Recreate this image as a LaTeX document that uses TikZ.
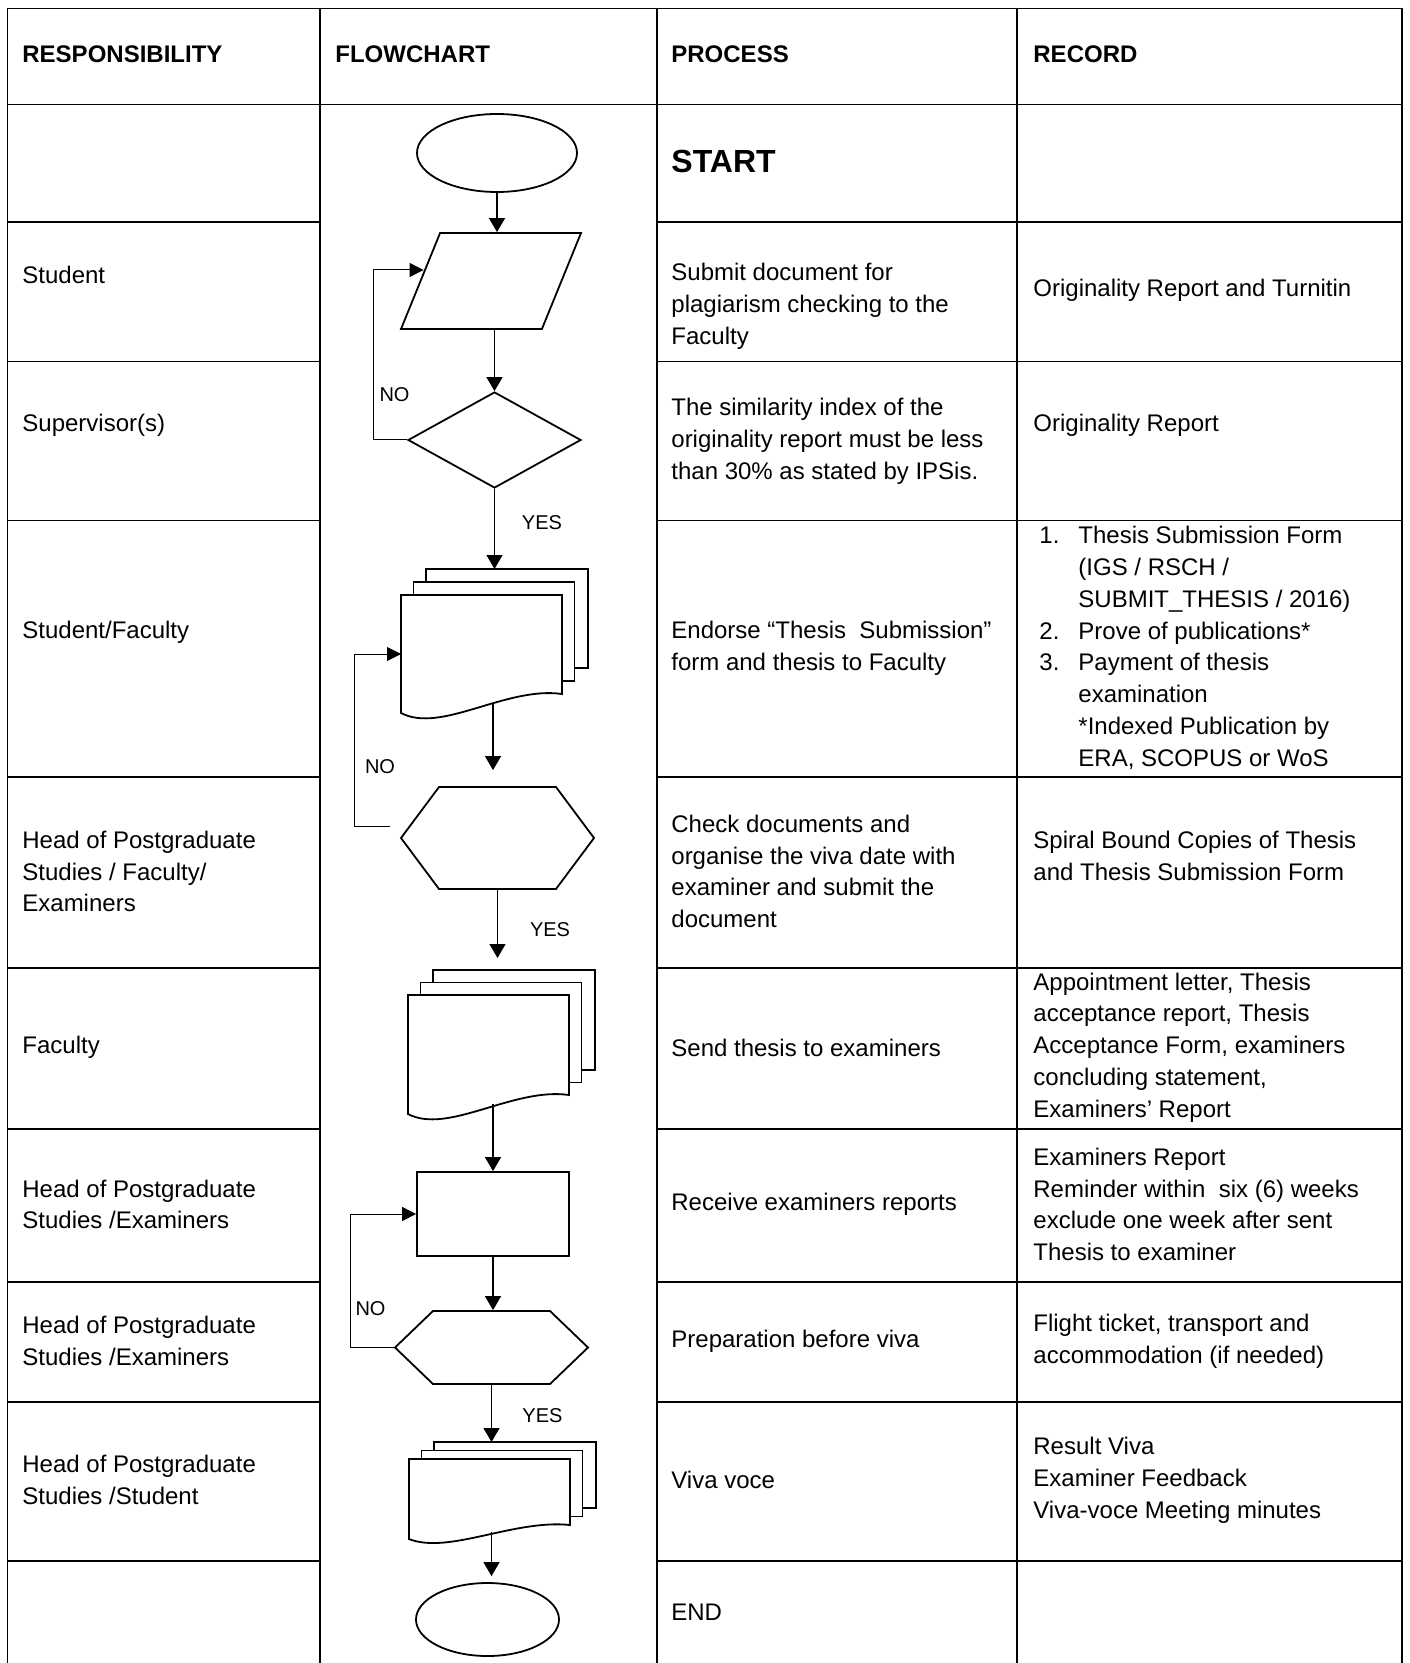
\documentclass[tikz,border=0pt]{standalone}
\usepackage{fontspec}
\setmainfont{Liberation Sans}
\usetikzlibrary{shapes.geometric, shapes.symbols, arrows.meta}
\newcommand{\recnum}[1]{\makebox[19.5pt][l]{#1}}

\begin{document}
\begin{tikzpicture}[x=0.5pt, y=-0.5pt,
  every node/.style={font=\fontsize{12}{15.9}\selectfont, inner sep=0pt},
  tabline/.style={line width=0.85pt},
  cell/.style={anchor=west, align=left},
  headtxt/.style={anchor=west, font=\fontsize{12}{15.9}\selectfont\bfseries},
  shapeline/.style={draw, line width=0.9pt, fill=white, inner sep=2pt},
  hexa/.style={shapeline, signal, signal to=east and west, minimum width=96.5pt},
  arr/.style={line width=0.7pt, -{Triangle[length=7pt, width=8pt]}},
  loopline/.style={line width=0.5pt, -{Triangle[length=7pt, width=7pt]}},
  lbl/.style={font=\fontsize{10}{12}\selectfont},
  pics/docs/.style args={#1/#2/#3}{code={
    \draw[shapeline] (25,-2*#2) rectangle ++(162,#1);
    \draw[shapeline] (12.5,-#2) rectangle ++(161,#1);
    \draw[shapeline] (0,0) -- (161,0) -- (161,#1)
      .. controls (105,#1-8*#3) and (40,#1+40*#3) .. (0,#1+19*#3) -- cycle;
    \coordinate (-top) at (91,-2*#2);
    \coordinate (-out) at (92,#1+9*#3);
    \coordinate (-in) at (0,{(#1+19*#3)/2});
  }}]
  \useasboundingbox (0,0) rectangle (1409,1663);
  % table
  \draw[tabline] (7.5,1663) -- (7.5,8.5) -- (1402,8.5) -- (1402,1663);
  \foreach \cx in {320,657,1017} \draw[tabline] (\cx,8.5) -- (\cx,1663);
  \draw[tabline] (7.5,104.5) -- (1402,104.5);
  \foreach \ry in {222,361.5,520.5,777,968,1129,1282,1402,1561} {
    \draw[tabline] (7.5,\ry) -- (320,\ry);
    \draw[tabline] (657,\ry) -- (1402,\ry);
  }
  \node[headtxt] (hresp) at (22,54) {RESPONSIBILITY};
  \node[headtxt] (hflow) at (335,54) {FLOWCHART};
  \node[headtxt] (hproc) at (671,54) {PROCESS};
  \node[headtxt] (hrec) at (1033,54) {RECORD};

  % flowchart
  \node[shapeline, ellipse, minimum width=80pt, minimum height=39pt] (start) at (497,153) {};
  \node[shapeline, trapezium, trapezium left angle=69, trapezium right angle=111,
    trapezium stretches=true, minimum width=90pt, minimum height=48pt] (para) at (491,281) {};
  \node[shapeline, diamond, aspect=1.8, minimum width=86.5pt, minimum height=48pt] (dia) at (494.5,440) {};
  \pic (d1) at (401,595) {docs=99/13/1};
  \node[hexa, signal pointer angle=106.6, minimum height=51pt] (hex1) at (497.5,838) {};
  \pic (d2) at (408,995) {docs=100/12.5/1};
  \node[shapeline, rectangle, minimum width=76pt, minimum height=42pt] (rect) at (493,1214) {};
  \node[hexa, signal pointer angle=87.7, minimum height=36.5pt] (hex2) at (491.5,1347.5) {};
  \pic (d3) at (409,1459) {docs=66/8.5/0.74};
  \node[shapeline, ellipse, minimum width=71.5pt, minimum height=36.5pt] (stop) at (487.5,1619.5) {};

  \draw[arr] (start) -- (start |- para.north);
  \draw[arr] (dia |- para.south) -- (dia.north);
  \draw[arr] (dia) -- (dia |- d1-top);
  \draw[arr, shorten >=8pt] (d1-out) -- (d1-out |- hex1.north);
  \draw[arr, shorten >=6pt] (hex1) -- (hex1 |- d2-top);
  \draw[arr] (rect |- d2-out) -- (rect.north);
  \draw[arr] (rect) -- (rect |- hex2.north);
  \draw[arr] (hex2) -- (hex2 |- d3-top);
  \draw[arr, shorten >=3pt] ([xshift=2pt]stop |- d3-out) -- ([xshift=2pt]stop.north);

  \draw[loopline] (dia.west) -- ++(-34,0) |- ([shift={(2pt,5.5pt)}]para.left side);
  \draw[loopline] ([shift={(-5pt,6pt)}]hex1.west) -- ++(-35,0) |- (d1-in);
  \draw[loopline] (hex2.west) -- ++(-43,0) |- (rect.west);

  \node[lbl] (no1) at (394.5,395) {NO};
  \node[lbl] (yes1) at (542,523) {YES};
  \node[lbl] (no2) at (380,767) {NO};
  \node[lbl] (yes2) at (550,929.5) {YES};
  \node[lbl] (no3) at (370.5,1308.7) {NO};
  \node[lbl] (yes3) at (542.5,1416) {YES};

  % responsibility column
  \node[cell] (resp1) at (22,274.6) {Student};
  \node[cell] (resp2) at (22,425) {Supervisor(s)};
  \node[cell] (resp3) at (22,632) {Student/Faculty};
  \node[cell] (resp4) at (22,871.5) {Head of Postgraduate\\Studies / Faculty/\\Examiners};
  \node[cell] (resp5) at (22,1047.5) {Faculty};
  \node[cell] (resp6) at (22,1204.4) {Head of Postgraduate\\Studies /Examiners};
  \node[cell] (resp7) at (22,1341.2) {Head of Postgraduate\\Studies /Examiners};
  \node[cell] (resp8) at (22,1480) {Head of Postgraduate\\Studies /Student};

  % process column
  \node[cell, font=\fontsize{16}{19}\selectfont\bfseries] (proc0) at (671,161) {START};
  \node[cell] (proc1) at (671,306.4) {Submit document for\\plagiarism checking to the\\Faculty};
  \node[cell] (proc2) at (671,441) {The similarity index of the\\originality report must be less\\than 30\% as stated by IPSis.};
  \node[cell] (proc3) at (671,648.3) {Endorse “Thesis~ Submission”\\form and thesis to Faculty};
  \node[cell] (proc4) at (671,871.5) {Check documents and\\organise the viva date with\\examiner and submit the\\document};
  \node[cell] (proc5) at (671,1047.5) {Send thesis to examiners};
  \node[cell] (proc6) at (671,1204.4) {Receive examiners reports};
  \node[cell] (proc7) at (671,1341.2) {Preparation before viva};
  \node[cell] (proc8) at (671,1480) {Viva voce};
  \node[cell] (proc9) at (671,1612.6) {END};

  % record column
  \node[cell] (rec1) at (1033,290.5) {Originality Report and Turnitin};
  \node[cell] (rec2) at (1033,425) {Originality Report};
  \node[cell] (rec3) at (1039,647.8) {\recnum{1.}Thesis Submission Form\\\recnum{}(IGS / RSCH /\\
    \recnum{}SUBMIT\_THESIS / 2016)\\\recnum{2.}Prove of publications*\\\recnum{3.}Payment of thesis\\
    \recnum{}examination\\\recnum{}*Indexed Publication by\\\recnum{}ERA, SCOPUS or WoS};
  \node[cell] (rec4) at (1033,855.6) {Spiral Bound Copies of Thesis\\and Thesis Submission Form};
  \node[cell] (rec5) at (1033,1047.5) {Appointment letter, Thesis\\acceptance report, Thesis\\Acceptance Form, examiners\\concluding statement,\\Examiners’ Report};
  \node[cell] (rec6) at (1033,1204.4) {Examiners Report\\Reminder within~ six (6) weeks\\exclude one week after sent\\Thesis to examiner};
  \node[cell] (rec7) at (1033,1341.2) {Flight ticket, transport and\\accommodation (if needed)};
  \node[cell] (rec8) at (1033,1480) {Result Viva\\Examiner Feedback\\Viva-voce Meeting minutes};
\end{tikzpicture}
\end{document}
